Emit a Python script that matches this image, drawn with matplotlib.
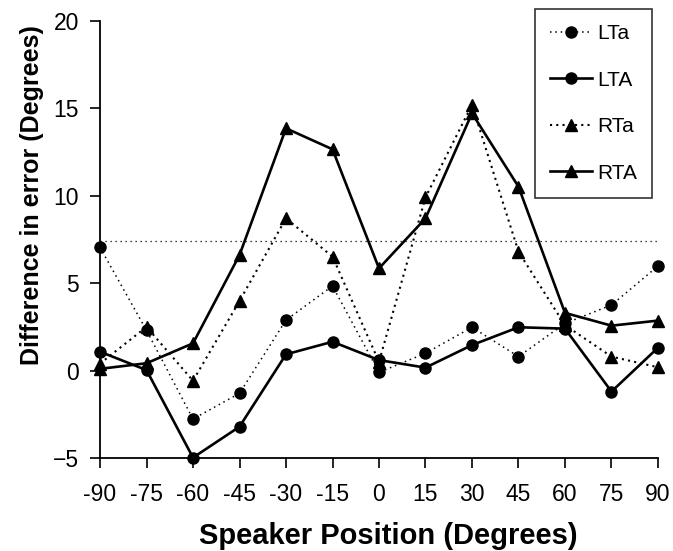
import matplotlib
matplotlib.use("Agg")
import matplotlib.pyplot as plt

positions = [-90, -75, -60, -45, -30, -15, 0, 15, 30, 45, 60, 75, 90]
LTa = [7.05, 2.3, -2.77, -1.30, 2.89, 4.84, -0.1, 0.99, 2.48, 0.8, 2.7, 3.75, 5.98]
LTA = [1.08, 0.03, -4.98, -3.21, 0.93, 1.65, 0.6, 0.17, 1.46, 2.48, 2.4, -1.2, 1.31]
RTa = [0.4, 2.5, -0.58, 3.98, 8.71, 6.52, 0.5, 9.91, 15.2, 6.8, 2.6, 0.8, 0.19]
RTA = [0.1, 0.42, 1.56, 6.61, 13.86, 12.66, 5.85, 8.71, 14.72, 10.52, 3.3, 2.57, 2.86]
reference_level = 7.4
yticks = [-5, 0, 5, 10, 15, 20]

plt.rcParams['font.family'] = ['Liberation Sans', 'DejaVu Sans']

fig = plt.figure(figsize=(6.73, 5.51), dpi=100)
ax = fig.add_axes([0.1486, 0.1688, 0.8291, 0.7931])

ax.plot([positions[0], positions[-1]], [reference_level, reference_level],
        linestyle=(0, (1, 3)), color='black', linewidth=0.9, clip_on=False)

ms = 8
ax.plot(positions, LTa, linestyle=(0, (1, 2.5)), color='black', linewidth=1.1,
        marker='o', markersize=ms, label='LTa', clip_on=False)
ax.plot(positions, LTA, linestyle='-', color='black', linewidth=1.9,
        marker='o', markersize=ms, label='LTA', clip_on=False)
ax.plot(positions, RTa, linestyle=(0, (1, 2)), color='black', linewidth=1.5,
        marker='^', markersize=ms, label='RTa', clip_on=False)
ax.plot(positions, RTA, linestyle='-', color='black', linewidth=1.9,
        marker='^', markersize=ms, label='RTA', clip_on=False)

ax.set_xlim(-90, 90)
ax.set_ylim(-5, 20)
ax.set_xticks(positions)
ax.set_xticklabels([str(p) for p in positions])
ax.set_yticks(yticks)

for s in ['top', 'right']:
    ax.spines[s].set_visible(False)
for s in ['left', 'bottom']:
    ax.spines[s].set_linewidth(1.3)

ax.tick_params(axis='both', direction='out', length=7, width=1.2, labelsize=16.5)
ax.tick_params(axis='x', pad=11)
ax.tick_params(axis='y', pad=8)

ax.set_xlabel('Speaker Position (Degrees)', fontsize=21, fontweight='bold')
ax.set_ylabel('Difference in error (Degrees)', fontsize=18, fontweight='bold')
ax.xaxis.set_label_coords(0.516, -0.146)
ax.yaxis.set_label_coords(-0.1, 0.602)

leg = ax.legend(loc='upper right', bbox_to_anchor=(0.989, 1.027), fontsize=15,
                frameon=True, fancybox=False, edgecolor='black', handlelength=2.0,
                labelspacing=1.32, borderpad=0.72, handletextpad=0.25,
                borderaxespad=0)
leg.get_frame().set_linewidth(1.2)

fig.savefig('out.png', dpi=100)
